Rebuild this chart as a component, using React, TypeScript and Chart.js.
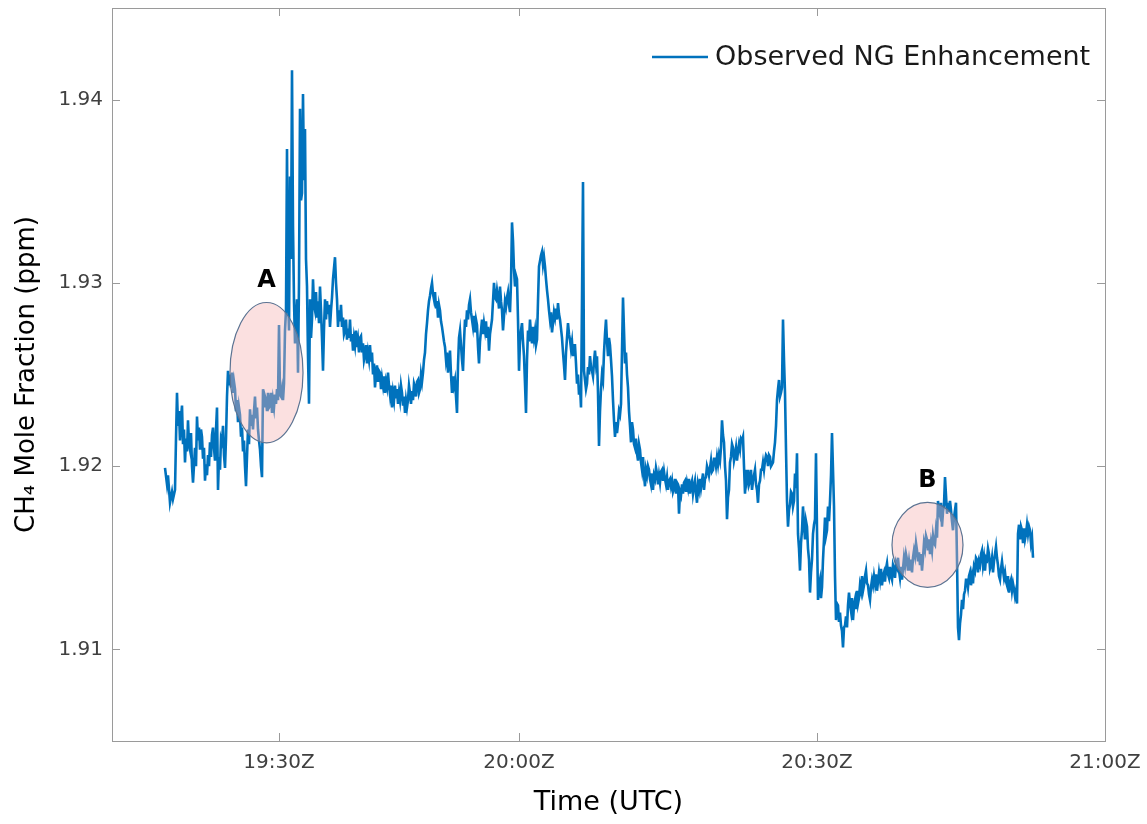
import React, { useEffect, useRef } from "react";
import { Chart, registerables } from "chart.js";

Chart.register(...registerables);

// Sample time (axis units, one unit per sample) and CH4 mole fraction (ppm)
const times = [
  54, 56, 57, 59, 61, 62, 64, 65, 66, 67, 68, 69, 70, 71, 72, 73, 74, 75, 76, 77,
  78, 79, 80, 81, 82, 84, 85, 86, 87, 88, 89, 90, 91, 92, 93, 94, 95, 96, 97, 98,
  99, 100, 101, 102, 103, 104, 105, 106, 107, 108, 109, 110, 111, 112, 113, 114, 115, 116, 117, 118,
  119, 120, 121, 122, 123, 124, 125, 126, 127, 128, 129, 130, 131, 132, 133, 134, 135, 136, 137, 138,
  139, 140, 141, 142, 143, 144, 145, 146, 147, 148, 149, 150, 151, 152, 153, 154, 155, 156, 157, 158,
  159, 160, 161, 162, 163, 164, 165, 166, 167, 168, 169, 170, 171, 172, 173, 174, 175, 176, 177, 178,
  179, 180, 181, 182, 183, 184, 185, 186, 187, 188, 189, 190, 191, 192, 193, 194, 195, 196, 197, 198,
  199, 200, 201, 202, 203, 204, 205, 206, 207, 208, 209, 210, 211, 212, 213, 214, 215, 216, 217, 218,
  219, 220, 221, 222, 223, 224, 225, 226, 227, 228, 229, 230, 231, 232, 233, 234, 235, 236, 237, 238,
  239, 240, 241, 242, 243, 244, 245, 246, 247, 248, 249, 250, 251, 252, 253, 254, 255, 256, 257, 258,
  259, 260, 261, 262, 263, 264, 265, 266, 267, 268, 269, 270, 271, 272, 273, 274, 275, 276, 277, 278,
  279, 280, 281, 282, 283, 284, 285, 286, 287, 288, 289, 290, 291, 292, 293, 294, 295, 296, 297, 298,
  299, 300, 301, 302, 303, 304, 305, 306, 307, 308, 309, 310, 311, 312, 313, 314, 315, 316, 317, 318,
  319, 320, 321, 322, 323, 324, 325, 326, 327, 328, 329, 330, 331, 332, 333, 334, 335, 336, 337, 338,
  339, 340, 341, 342, 343, 344, 345, 346, 347, 348, 349, 350, 351, 352, 353, 354, 355, 356, 357, 358,
  359, 360, 361, 362, 363, 364, 365, 366, 367, 368, 369, 370, 371, 372, 373, 374, 375, 376, 377, 378,
  379, 380, 381, 382, 383, 384, 385, 386, 387, 388, 389, 390, 391, 392, 393, 394, 395, 396, 397, 398,
  399, 400, 401, 402, 403, 404, 405, 406, 407, 408, 409, 410, 411, 412, 413, 414, 415, 416, 417, 418,
  419, 420, 421, 422, 423, 424, 425, 426, 427, 428, 429, 430, 431, 432, 433, 434, 435, 436, 437, 438,
  439, 440, 441, 442, 443, 444, 445, 446, 447, 448, 449, 450, 451, 452, 453, 454, 455, 456, 457, 458,
  459, 460, 461, 462, 463, 464, 465, 466, 467, 468, 469, 470, 471, 472, 473, 474, 475, 476, 477, 478,
  479, 480, 481, 482, 483, 484, 485, 486, 487, 488, 489, 490, 491, 492, 493, 494, 495, 496, 497, 498,
  499, 500, 501, 502, 503, 504, 505, 506, 507, 508, 509, 510, 511, 512, 513, 514, 515, 516, 517, 518,
  519, 520, 521, 522, 523, 524, 525, 526, 527, 528, 529, 530, 531, 532, 533, 534, 535, 536, 537, 538,
  539, 540, 541, 542, 543, 544, 545, 546, 547, 548, 549, 550, 551, 552, 553, 554, 555, 556, 557, 558,
  559, 560, 561, 562, 563, 564, 565, 566, 567, 568, 569, 570, 571, 572, 573, 574, 575, 576, 577, 578,
  579, 580, 581, 582, 583, 584, 585, 586, 587, 588, 589, 590, 591, 592, 593, 594, 595, 596, 597, 598,
  599, 600, 601, 602, 603, 604, 605, 606, 607, 608, 609, 610, 611, 612, 613, 614, 615, 616, 617, 618,
  619, 620, 621, 622, 623, 624, 625, 626, 627, 628, 629, 630, 631, 632, 633, 634, 635, 636, 637, 638,
  639, 640, 641, 642, 643, 644, 645, 646, 647, 648, 649, 650, 651, 652, 653, 654, 655, 656, 657, 658,
  659, 660, 661, 662, 663, 664, 665, 666, 667, 668, 669, 670, 671, 672, 673, 674, 675, 676, 677, 678,
  679, 680, 681, 682, 683, 684, 685, 686, 687, 688, 689, 690, 691, 692, 693, 694, 695, 696, 697, 698,
  699, 700, 701, 702, 703, 704, 705, 706, 707, 708, 709, 710, 711, 712, 713, 714, 715, 716, 717, 718,
  719, 720, 721, 722, 723, 724, 725, 726, 727, 728, 729, 730, 731, 732, 733, 734, 735, 736, 737, 738,
  739, 740, 741, 742, 743, 744, 745, 746, 747, 748, 749, 750, 751, 752, 753, 754, 755, 756, 757, 758,
  759, 760, 761, 762, 763, 764, 765, 766, 767, 768, 769, 770, 771, 772, 773, 774, 775, 776, 777, 778,
  779, 780, 781, 782, 783, 784, 785, 786, 787, 788, 789, 790, 791, 792, 793, 794, 795, 796, 797, 798,
  799, 800, 801, 802, 803, 804, 805, 806, 807, 808, 809, 810, 811, 812, 813, 814, 815, 816, 817, 818,
  819, 820, 821, 822, 823, 824, 825, 826, 827, 828, 829, 830, 831, 832, 833, 834, 835, 836, 837, 838,
  839, 840, 841, 842, 843, 844, 845, 846, 847, 848, 849, 850, 851, 852, 853, 854, 855, 856, 857, 858,
  859, 860, 861, 862, 863, 864, 865, 866, 867, 868, 869, 870, 871, 872, 873, 874, 875, 876, 877, 878,
  879, 880, 881, 882, 883, 884, 885, 886, 887, 888, 889, 890, 891, 892, 893, 894, 895, 896, 897, 898,
  899, 900, 901, 902, 903, 904, 905, 906, 907, 908, 909, 910, 911, 912, 913, 914, 915, 916, 917, 918,
  919, 920, 921, 922,
];

const ch4 = [
  1.9199, 1.9190, 1.9195, 1.9180, 1.9186, 1.9182, 1.9187, 1.9215, 1.9240, 1.9222, 1.9230, 1.9214, 1.9226, 1.9233, 1.9212, 1.9220, 1.9202, 1.9215, 1.9208, 1.9225,
  1.9212, 1.9209, 1.9218, 1.9200, 1.9191, 1.9210, 1.9200, 1.9227, 1.9214, 1.9221, 1.9209, 1.9220, 1.9216, 1.9204, 1.9210, 1.9192, 1.9201, 1.9195, 1.9206, 1.9200,
  1.9213, 1.9205, 1.9217, 1.9221, 1.9210, 1.9203, 1.9220, 1.9232, 1.9187, 1.9205, 1.9198, 1.9215, 1.9213, 1.9222, 1.9206, 1.9199, 1.9215, 1.9238, 1.9252, 1.9244,
  1.9250, 1.9243, 1.9251, 1.9240, 1.9246, 1.9242, 1.9230, 1.9236, 1.9224, 1.9232, 1.9228, 1.9216, 1.9221, 1.9208, 1.9214, 1.9200, 1.9189, 1.9205, 1.9220, 1.9212,
  1.9231, 1.9222, 1.9228, 1.9220, 1.9230, 1.9238, 1.9226, 1.9232, 1.9220, 1.9214, 1.9209, 1.9200, 1.9194, 1.9242, 1.9232, 1.9238, 1.9236, 1.9230, 1.9240, 1.9232,
  1.9233, 1.9240, 1.9229, 1.9236, 1.9232, 1.9239, 1.9234, 1.9242, 1.9236, 1.9277, 1.9239, 1.9238, 1.9242, 1.9236, 1.9245, 1.9274, 1.9285, 1.9373, 1.9295, 1.9274,
  1.9358, 1.9313, 1.9416, 1.9331, 1.9290, 1.9267, 1.9280, 1.9291, 1.9251, 1.9300, 1.9395, 1.9345, 1.9349, 1.9403, 1.9356, 1.9384, 1.9313, 1.9298, 1.9260, 1.9234,
  1.9291, 1.9270, 1.9280, 1.9302, 1.9288, 1.9285, 1.9295, 1.9281, 1.9290, 1.9278, 1.9298, 1.9285, 1.9270, 1.9252, 1.9275, 1.9291, 1.9280, 1.9290, 1.9283, 1.9288,
  1.9276, 1.9285, 1.9292, 1.9302, 1.9308, 1.9314, 1.9300, 1.9291, 1.9276, 1.9285, 1.9279, 1.9288, 1.9276, 1.9281, 1.9272, 1.9274, 1.9280, 1.9269, 1.9275, 1.9270,
  1.9280, 1.9268, 1.9272, 1.9263, 1.9270, 1.9266, 1.9274, 1.9265, 1.9269, 1.9262, 1.9270, 1.9271, 1.9262, 1.9267, 1.9258, 1.9261, 1.9266, 1.9256, 1.9262, 1.9258,
  1.9266, 1.9257, 1.9262, 1.9250, 1.9256, 1.9243, 1.9250, 1.9255, 1.9246, 1.9252, 1.9251, 1.9242, 1.9248, 1.9244, 1.9249, 1.9240, 1.9246, 1.9243, 1.9251, 1.9244,
  1.9239, 1.9244, 1.9232, 1.9240, 1.9236, 1.9244, 1.9237, 1.9242, 1.9234, 1.9240, 1.9236, 1.9244, 1.9240, 1.9233, 1.9238, 1.9229, 1.9236, 1.9232, 1.9236, 1.9244,
  1.9240, 1.9234, 1.9241, 1.9236, 1.9245, 1.9243, 1.9238, 1.9246, 1.9247, 1.9240, 1.9242, 1.9250, 1.9246, 1.9251, 1.9258, 1.9262, 1.9272, 1.9278, 1.9285, 1.9290,
  1.9293, 1.9297, 1.9300, 1.9294, 1.9291, 1.9295, 1.9286, 1.9290, 1.9281, 1.9288, 1.9285, 1.9279, 1.9276, 1.9272, 1.9268, 1.9265, 1.9258, 1.9262, 1.9251, 1.9257,
  1.9263, 1.9250, 1.9240, 1.9249, 1.9244, 1.9247, 1.9238, 1.9229, 1.9255, 1.9270, 1.9274, 1.9266, 1.9258, 1.9252, 1.9268, 1.9280, 1.9276, 1.9285, 1.9280, 1.9288,
  1.9291, 1.9284, 1.9280, 1.9276, 1.9282, 1.9273, 1.9280, 1.9277, 1.9265, 1.9256, 1.9268, 1.9274, 1.9280, 1.9272, 1.9278, 1.9274, 1.9279, 1.9270, 1.9276, 1.9263,
  1.9272, 1.9276, 1.9280, 1.9290, 1.9300, 1.9292, 1.9291, 1.9296, 1.9292, 1.9286, 1.9298, 1.9290, 1.9285, 1.9274, 1.9282, 1.9290, 1.9287, 1.9292, 1.9295, 1.9288,
  1.9284, 1.9300, 1.9333, 1.9323, 1.9307, 1.9298, 1.9304, 1.9302, 1.9280, 1.9252, 1.9268, 1.9274, 1.9278, 1.9268, 1.9260, 1.9245, 1.9229, 1.9258, 1.9274, 1.9268,
  1.9280, 1.9272, 1.9267, 1.9276, 1.9270, 1.9274, 1.9266, 1.9269, 1.9290, 1.9309, 1.9312, 1.9315, 1.9317, 1.9310, 1.9314, 1.9309, 1.9302, 1.9296, 1.9291, 1.9285,
  1.9280, 1.9284, 1.9273, 1.9278, 1.9284, 1.9281, 1.9286, 1.9280, 1.9289, 1.9283, 1.9280, 1.9275, 1.9270, 1.9262, 1.9255, 1.9247, 1.9262, 1.9270, 1.9278, 1.9272,
  1.9269, 1.9264, 1.9268, 1.9260, 1.9266, 1.9266, 1.9256, 1.9245, 1.9250, 1.9239, 1.9244, 1.9232, 1.9291, 1.9355, 1.9252, 1.9247, 1.9242, 1.9245, 1.9254, 1.9250,
  1.9260, 1.9254, 1.9252, 1.9249, 1.9257, 1.9263, 1.9256, 1.9260, 1.9240, 1.9211, 1.9230, 1.9242, 1.9250, 1.9247, 1.9262, 1.9272, 1.9280, 1.9268, 1.9260, 1.9270,
  1.9266, 1.9258, 1.9249, 1.9236, 1.9225, 1.9216, 1.9224, 1.9218, 1.9223, 1.9230, 1.9228, 1.9234, 1.9263, 1.9292, 1.9274, 1.9256, 1.9262, 1.9250, 1.9243, 1.9230,
  1.9222, 1.9213, 1.9224, 1.9220, 1.9212, 1.9210, 1.9215, 1.9207, 1.9203, 1.9212, 1.9209, 1.9202, 1.9198, 1.9205, 1.9195, 1.9189, 1.9198, 1.9195, 1.9200, 1.9198,
  1.9193, 1.9190, 1.9196, 1.9187, 1.9195, 1.9193, 1.9199, 1.9196, 1.9190, 1.9195, 1.9191, 1.9197, 1.9198, 1.9192, 1.9197, 1.9193, 1.9190, 1.9194, 1.9187, 1.9192,
  1.9193, 1.9189, 1.9192, 1.9186, 1.9188, 1.9193, 1.9185, 1.9191, 1.9190, 1.9174, 1.9186, 1.9184, 1.9190, 1.9185, 1.9191, 1.9192, 1.9186, 1.9191, 1.9188, 1.9193,
  1.9185, 1.9190, 1.9192, 1.9185, 1.9189, 1.9192, 1.9185, 1.9180, 1.9190, 1.9187, 1.9193, 1.9188, 1.9192, 1.9196, 1.9187, 1.9193, 1.9194, 1.9200, 1.9198, 1.9195,
  1.9199, 1.9203, 1.9197, 1.9198, 1.9204, 1.9204, 1.9200, 1.9205, 1.9201, 1.9206, 1.9203, 1.9210, 1.9225, 1.9217, 1.9213, 1.9200, 1.9192, 1.9171, 1.9183, 1.9187,
  1.9202, 1.9205, 1.9212, 1.9210, 1.9203, 1.9206, 1.9210, 1.9203, 1.9208, 1.9212, 1.9209, 1.9215, 1.9214, 1.9216, 1.9200, 1.9185, 1.9198, 1.9193, 1.9198, 1.9190,
  1.9192, 1.9198, 1.9187, 1.9192, 1.9195, 1.9198, 1.9190, 1.9187, 1.9180, 1.9190, 1.9192, 1.9198, 1.9198, 1.9202, 1.9198, 1.9203, 1.9206, 1.9205, 1.9200, 1.9206,
  1.9205, 1.9200, 1.9201, 1.9202, 1.9208, 1.9213, 1.9222, 1.9236, 1.9242, 1.9247, 1.9238, 1.9240, 1.9243, 1.9280, 1.9258, 1.9240, 1.9209, 1.9181, 1.9167, 1.9176,
  1.9179, 1.9186, 1.9185, 1.9178, 1.9181, 1.9196, 1.9188, 1.9207, 1.9163, 1.9155, 1.9143, 1.9158, 1.9165, 1.9178, 1.9168, 1.9160, 1.9170, 1.9167, 1.9155, 1.9149,
  1.9131, 1.9142, 1.9149, 1.9163, 1.9168, 1.9171, 1.9207, 1.9165, 1.9127, 1.9135, 1.9138, 1.9128, 1.9134, 1.9149, 1.9160, 1.9172, 1.9162, 1.9165, 1.9178, 1.9170,
  1.9181, 1.9195, 1.9218, 1.9198, 1.9178, 1.9140, 1.9116, 1.9125, 1.9124, 1.9115, 1.9120, 1.9113, 1.9110, 1.9101, 1.9112, 1.9113, 1.9118, 1.9112, 1.9124, 1.9131,
  1.9125, 1.9121, 1.9128, 1.9116, 1.9124, 1.9127, 1.9122, 1.9132, 1.9125, 1.9128, 1.9135, 1.9132, 1.9140, 1.9132, 1.9135, 1.9140, 1.9143, 1.9136, 1.9135, 1.9130,
  1.9127, 1.9134, 1.9138, 1.9135, 1.9140, 1.9136, 1.9141, 1.9132, 1.9137, 1.9142, 1.9138, 1.9144, 1.9135, 1.9140, 1.9142, 1.9137, 1.9144, 1.9147, 1.9141, 1.9139,
  1.9145, 1.9140, 1.9138, 1.9146, 1.9144, 1.9139, 1.9147, 1.9145, 1.9150, 1.9143, 1.9139, 1.9145, 1.9138, 1.9144, 1.9150, 1.9146, 1.9152, 1.9149, 1.9143, 1.9148,
  1.9143, 1.9149, 1.9142, 1.9150, 1.9154, 1.9151, 1.9158, 1.9154, 1.9148, 1.9153, 1.9146, 1.9152, 1.9143, 1.9150, 1.9158, 1.9155, 1.9162, 1.9160, 1.9154, 1.9160,
  1.9152, 1.9158, 1.9154, 1.9162, 1.9158, 1.9157, 1.9165, 1.9161, 1.9181, 1.9175, 1.9173, 1.9180, 1.9167, 1.9175, 1.9179, 1.9194, 1.9184, 1.9174, 1.9180, 1.9175,
  1.9181, 1.9176, 1.9170, 1.9165, 1.9172, 1.9176, 1.9180, 1.9149, 1.9112, 1.9105, 1.9114, 1.9119, 1.9127, 1.9122, 1.9130, 1.9132, 1.9138, 1.9138, 1.9134, 1.9140,
  1.9142, 1.9135, 1.9140, 1.9136, 1.9145, 1.9143, 1.9150, 1.9149, 1.9142, 1.9148, 1.9146, 1.9152, 1.9154, 1.9146, 1.9150, 1.9143, 1.9150, 1.9149, 1.9155, 1.9152,
  1.9144, 1.9146, 1.9150, 1.9142, 1.9148, 1.9152, 1.9156, 1.9150, 1.9146, 1.9140, 1.9138, 1.9144, 1.9148, 1.9143, 1.9139, 1.9142, 1.9137, 1.9135, 1.9140, 1.9131,
  1.9136, 1.9138, 1.9132, 1.9136, 1.9133, 1.9129, 1.9132, 1.9125, 1.9163, 1.9168, 1.9160, 1.9167, 1.9165, 1.9158, 1.9166, 1.9160, 1.9163, 1.9168, 1.9163, 1.9167,
  1.9165, 1.9158, 1.9161, 1.9150,
];

const xRange = [1, 994];
const xTickValues = [168, 408, 706, 994];
const xTickLabels = ["19:30Z", "20:00Z", "20:30Z", "21:00Z"];
const yRange = [1.905, 1.945];
const yTickValues = [1.91, 1.92, 1.93, 1.94];

const seriesLabel = "Observed NG Enhancement";
const xTitle = "Time (UTC)";
const yTitle = "CH\u2084 Mole Fraction (ppm)";

const highlightNames = ["A", "B"];
const highlightCenterT = [155.5, 816.5];
const highlightCenterCH4 = [1.9251, 1.9157];
const highlightRadiusT = [36.5, 35.5];
const highlightRadiusCH4 = [0.00383, 0.00232];
const highlightLabelCH4 = [1.9301, 1.9192];

const LINE_COLOR = "#0072BD";
const FONT = "'DejaVu Sans', sans-serif";

const overlayPlugin = {
  id: "overlay",
  afterDatasetsDraw(chart: any) {
    const { ctx, scales } = chart;
    const xs = scales.x;
    const ys = scales.y;
    ctx.save();
    highlightNames.forEach((name, i) => {
      const cx = xs.getPixelForValue(highlightCenterT[i]);
      const cy = ys.getPixelForValue(highlightCenterCH4[i]);
      const rx = Math.abs(xs.getPixelForValue(highlightCenterT[i] + highlightRadiusT[i]) - cx);
      const ry = Math.abs(ys.getPixelForValue(highlightCenterCH4[i] + highlightRadiusCH4[i]) - cy);
      ctx.beginPath();
      ctx.ellipse(cx, cy, rx, ry, 0, 0, Math.PI * 2);
      ctx.fillStyle = "rgba(244, 177, 177, 0.4)";
      ctx.fill();
      ctx.lineWidth = 1.2;
      ctx.strokeStyle = "#5b7392";
      ctx.stroke();
      ctx.fillStyle = "#000";
      ctx.font = `bold 24px ${FONT}`;
      ctx.textAlign = "center";
      ctx.textBaseline = "middle";
      ctx.fillText(name, cx, ys.getPixelForValue(highlightLabelCH4[i]));
    });
    ctx.restore();
  },
  afterDraw(chart: any) {
    const { ctx, chartArea: a, scales } = chart;
    const xs = scales.x;
    const ys = scales.y;
    ctx.save();
    ctx.strokeStyle = "#9a9a9a";
    ctx.lineWidth = 1;
    ctx.strokeRect(a.left + 0.5, a.top + 0.5, a.right - a.left, a.bottom - a.top);
    const tl = 8;
    ctx.beginPath();
    xTickValues.forEach((v) => {
      const px = Math.round(xs.getPixelForValue(v)) + 0.5;
      ctx.moveTo(px, a.bottom);
      ctx.lineTo(px, a.bottom - tl);
      ctx.moveTo(px, a.top);
      ctx.lineTo(px, a.top + tl);
    });
    yTickValues.forEach((v) => {
      const py = Math.round(ys.getPixelForValue(v)) + 0.5;
      ctx.moveTo(a.left, py);
      ctx.lineTo(a.left + tl, py);
      ctx.moveTo(a.right, py);
      ctx.lineTo(a.right - tl, py);
    });
    ctx.stroke();

    // legend
    const ly = a.top + 49;
    ctx.strokeStyle = LINE_COLOR;
    ctx.lineWidth = 2.5;
    ctx.beginPath();
    ctx.moveTo(a.right - 453, ly);
    ctx.lineTo(a.right - 397, ly);
    ctx.stroke();
    ctx.fillStyle = "#1a1a1a";
    ctx.font = `27px ${FONT}`;
    ctx.textAlign = "left";
    ctx.textBaseline = "middle";
    ctx.fillText(seriesLabel, a.right - 390, ly + 1);
    ctx.restore();
  },
};

export default function App() {
  const canvasRef = useRef<HTMLCanvasElement | null>(null);

  useEffect(() => {
    if (!canvasRef.current) return;
    const chart = new Chart(canvasRef.current, {
      type: "line",
      data: {
        datasets: [
          {
            label: seriesLabel,
            data: times.map((t, i) => ({ x: t, y: ch4[i] })),
            borderColor: LINE_COLOR,
            borderWidth: 2.6,
            pointRadius: 0,
            tension: 0,
            fill: false,
          },
        ],
      },
      options: {
        responsive: false,
        animation: false,
        events: [],
        layout: { padding: { top: 8, right: 42, bottom: 0, left: 0 } },
        plugins: { legend: { display: false }, tooltip: { enabled: false } },
        scales: {
          x: {
            type: "linear",
            min: xRange[0],
            max: xRange[1],
            grid: { display: false, drawTicks: false },
            border: { display: false },
            afterBuildTicks: (s: any) => {
              s.ticks = xTickValues.map((v) => ({ value: v }));
            },
            afterFit: (s: any) => {
              s.height = 83;
              s.paddingLeft = 0;
              s.paddingRight = 0;
            },
            ticks: {
              autoSkip: false,
              maxRotation: 0,
              padding: 10,
              color: "#404040",
              font: { family: FONT, size: 20 },
              callback: (_v: any, i: number) => xTickLabels[i],
            },
            title: {
              display: true,
              text: xTitle,
              color: "#000",
              font: { family: FONT, size: 27 },
              padding: { top: 0, bottom: 5 },
            },
          },
          y: {
            type: "linear",
            min: yRange[0],
            max: yRange[1],
            grid: { display: false, drawTicks: false },
            border: { display: false },
            afterBuildTicks: (s: any) => {
              s.ticks = yTickValues.map((v) => ({ value: v }));
            },
            afterFit: (s: any) => {
              s.width = 112;
              s.paddingTop = 0;
              s.paddingBottom = 0;
            },
            ticks: {
              padding: 9,
              color: "#404040",
              font: { family: FONT, size: 20 },
              callback: (v: any) => Number(v).toFixed(2),
            },
            title: {
              display: true,
              text: yTitle,
              color: "#000",
              font: { family: FONT, size: 26 },
              padding: { top: 12, bottom: 0 },
            },
          },
        },
      },
      plugins: [overlayPlugin],
    });
    return () => chart.destroy();
  }, []);

  return (
    <div style={{ position: "fixed", left: 0, top: 0, width: 1147, height: 824, background: "#fff" }}>
      <canvas ref={canvasRef} width={1147} height={824} />
    </div>
  );
}
